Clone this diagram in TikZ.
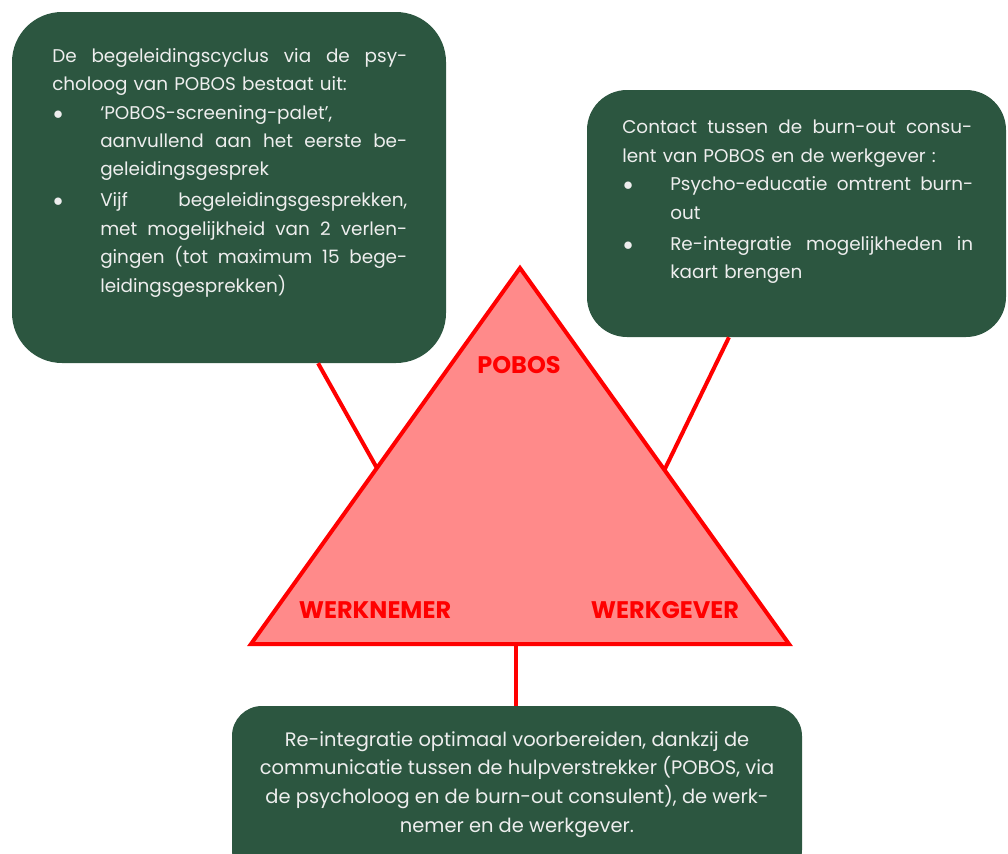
\documentclass[tikz,border=0pt]{standalone}
\usepackage{fontspec}
\setmainfont{Poppins}
\usetikzlibrary{calc}
\definecolor{boxgreen}{HTML}{2C5640}
\definecolor{trifill}{HTML}{FF8A8A}
\definecolor{boxtext}{HTML}{EEEEEE}
\newcommand\jl[2]{\hbox to #1{\spaceskip=\fontdimen2\font plus 1fil\relax #2}}
\newcommand\blt{\makebox[36pt][l]{\makebox[9pt]{$\bullet$}}}
\newcommand\ind{\hspace*{36pt}}
\tikzset{
  greenbox/.style={fill=boxgreen, rounded corners=#1, inner sep=0pt},
  boxtxt/.style={inner sep=0pt, text=boxtext, font=\fontsize{13.8}{21.3}\selectfont},
  redline/.style={red, line width=3pt},
  role/.style={text=red, font=\fontsize{18}{20}\selectfont\bfseries}
}
\begin{document}
\begin{tikzpicture}[x=0.75pt,y=-0.75pt]
  \useasboundingbox (0,0) rectangle (1008,854);
  % triangle corners
  \coordinate (apex) at (520,268);
  \coordinate (bl) at (251,644);
  \coordinate (br) at (789,644);
  \coordinate (lfoot) at ($(apex)!0.532!(bl)$);
  \coordinate (rfoot) at ($(apex)!0.537!(br)$);
  \coordinate (bfoot) at ($(bl)!0.493!(br)$);
  % boxes
  \node[greenbox=37.5pt, minimum width=325.5pt, minimum height=263.25pt] (lbox) at (229,187.5) {};
  \node[greenbox=30pt, minimum width=314.25pt, minimum height=185.25pt] (rbox) at (796.5,213.5) {};
  \node[greenbox=22.5pt, minimum width=427.5pt, minimum height=130.5pt] (bbox) at (517,793) {};
  % connectors
  \draw[redline] ($(lbox.south west)!0.705!(lbox.south east)$) -- (lfoot);
  \draw[redline] ($(rbox.south west)!0.339!(rbox.south east)$) -- (rfoot);
  \draw[redline] (bfoot) -- (bfoot |- bbox.north);
  \draw[redline, fill=trifill] (apex) -- (bl) -- (br) -- cycle;
  \node[role] (pobos) at (519,365) {POBOS};
  \node[role] (werknemer) at (375,610) {WERKNEMER};
  \node[role] (werkgever) at (665,610) {WERKGEVER};
  % texts
  \node[boxtxt, anchor=north west, align=left, text width=266.25pt] (ltxt) at (52,48) {%
    \jl{266.25pt}{De begeleidingscyclus via de psy-}\\
    choloog van POBOS bestaat uit:\\
    \blt ‘POBOS-screening-palet’,\\
    \ind\jl{230.25pt}{aanvullend aan het eerste be-}\\
    \ind geleidingsgesprek\\[2pt]
    \blt\jl{230.25pt}{Vijf begeleidingsgesprekken,}\\
    \ind\jl{230.25pt}{met mogelijkheid van 2 verlen-}\\
    \ind\jl{230.25pt}{gingen (tot maximum 15 bege-}\\
    \ind leidingsgesprekken)};
  \node[boxtxt, anchor=north west, align=left, text width=262.5pt] (rtxt) at (622,120) {%
    \jl{262.5pt}{Contact tussen de burn-out consu-}\\
    lent van POBOS en de werkgever :\\
    \blt\jl{227.25pt}{Psycho-educatie omtrent burn-}\\
    \ind out\\[2pt]
    \blt\jl{227.25pt}{Re-integratie mogelijkheden in}\\
    \ind kaart brengen};
  \node[boxtxt, font=\fontsize{14.6}{21.6}\selectfont, anchor=north, align=center] (btxt) at (517,731) {%
    Re-integratie optimaal voorbereiden, dankzij de\\
    communicatie tussen de hulpverstrekker (POBOS, via\\
    de psycholoog en de burn-out consulent), de werk-\\
    nemer en de werkgever.};
\end{tikzpicture}
\end{document}
